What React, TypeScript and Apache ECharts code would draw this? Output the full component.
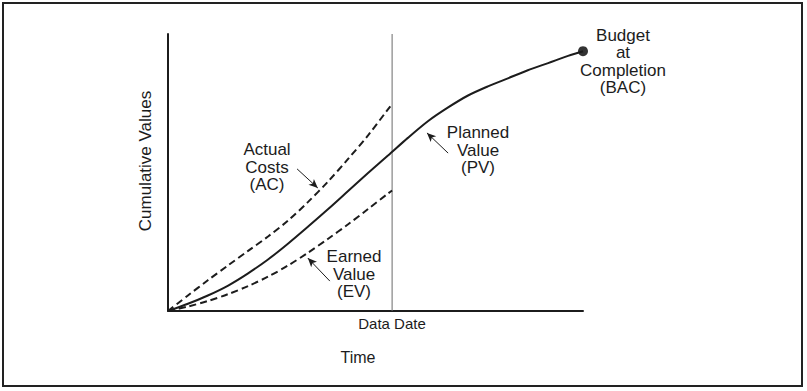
import React, { useEffect, useRef } from "react";
import * as echarts from "echarts";

// Shared x positions (time, % of total duration) where curves were read
const timeX = [0, 4.8, 9.6, 14.5, 19.3, 24.1, 28.9, 33.7, 38.6, 43.4, 48.2, 53.0];
// Planned Value (PV) curve, cumulative % of budget
const pvX = [...timeX, 57.8, 62.7, 67.5, 72.3, 77.1, 81.9, 86.7, 91.6, 96.4, 100];
const pvY = [0, 2.6, 5.6, 9.2, 13.6, 18.6, 24.3, 30.4, 36.8, 43.3, 49.8, 56.1, 62.5, 68.6, 73.5, 77.8, 81.1, 84.0, 86.9, 89.5, 92.1, 93.8];
// Actual Costs (AC) curve
const acX = [...timeX, 54.0];
const acY = [0, 5.6, 11.1, 16.5, 21.7, 26.9, 32.6, 39.3, 46.8, 54.9, 63.4, 72.8, 74.7];
// Earned Value (EV) curve
const evX = [...timeX, 54.0];
const evY = [0, 1.6, 3.6, 6.1, 9.0, 12.4, 16.4, 21.0, 26.1, 31.3, 36.8, 42.4, 43.5];
// Data date and budget at completion
const dataDateX = 54;
const bacPoint = [100, 93.8];
// Annotation arrows [fromX, fromY, toX, toY]
const acArrow = [31.1, 51.3, 36.1, 44.4];
const evArrow = [39.0, 10.8, 33.7, 19.1];
const pvArrow = [67.5, 57.0, 62.4, 64.3];

const zip = (xs: number[], ys: number[]) => xs.map((x, i) => [x, ys[i]]);

const FONT = "'Liberation Sans', Arial, sans-serif";
const INK = "#1c1c1c";

const arrowLine = (a: number[]) => ({
  silent: true,
  symbol: ["none", "arrow"],
  symbolSize: [6, 9],
  label: { show: false },
  lineStyle: { color: INK, width: 1, type: "solid" },
  data: [[{ coord: [a[0], a[1]] }, { coord: [a[2], a[3]] }]],
});

const textEl = (x: number, y: number, text: string, size: number, extra: any = {}) => ({
  type: "text",
  x,
  y,
  silent: true,
  ...extra,
  style: {
    text,
    fill: INK,
    font: `${size}px ${FONT}`,
    textAlign: "center",
    textVerticalAlign: "middle",
    lineHeight: 17.5,
  },
});

const curve = (name: string, xs: number[], ys: number[], dashed: boolean, arrow: number[]) => ({
  type: "line",
  name,
  data: zip(xs, ys),
  smooth: 0.3,
  showSymbol: false,
  lineStyle: dashed ? { color: INK, width: 2, type: [7, 4] } : { color: INK, width: 2 },
  markLine: arrowLine(arrow),
});

export default function App() {
  const ref = useRef<HTMLDivElement>(null);
  useEffect(() => {
    document.body.style.margin = "0";
    const chart = echarts.init(ref.current!, null, { renderer: "svg" });
    chart.setOption({
      animation: false,
      backgroundColor: "#ffffff",
      grid: { left: 168, top: 34, right: 224, bottom: 80 },
      xAxis: {
        type: "value",
        min: 0,
        max: 100,
        axisLine: { show: true, lineStyle: { color: INK, width: 2 } },
        axisTick: { show: false },
        axisLabel: { show: false },
        splitLine: { show: false },
      },
      yAxis: {
        type: "value",
        min: 0,
        max: 100,
        axisLine: { show: true, onZero: false, lineStyle: { color: INK, width: 2 } },
        axisTick: { show: false },
        axisLabel: { show: false },
        splitLine: { show: false },
      },
      series: [
        {
          type: "line",
          name: "Data Date",
          data: [[dataDateX, 0], [dataDateX, 100]],
          showSymbol: false,
          lineStyle: { color: "#6a6a6a", width: 1 },
          silent: true,
        },
        curve("PV", pvX, pvY, false, pvArrow),
        curve("AC", acX, acY, true, acArrow),
        curve("EV", evX, evY, true, evArrow),
        {
          type: "scatter",
          name: "BAC",
          data: [bacPoint],
          symbolSize: 10,
          itemStyle: { color: "#000" },
        },
      ],
      graphic: [
        {
          type: "rect",
          shape: { x: 3, y: 3, width: 799, height: 383 },
          style: { fill: "none", stroke: "#222", lineWidth: 2 },
          silent: true,
        },
        textEl(623, 61.5, "Budget\nat\nCompletion\n(BAC)", 17),
        textEl(478, 150, "Planned\nValue\n(PV)", 17),
        textEl(267, 167, "Actual\nCosts\n(AC)", 17),
        textEl(354, 274, "Earned\nValue\n(EV)", 17),
        textEl(392, 323, "Data Date", 15),
        textEl(358, 357, "Time", 16),
        textEl(145, 161, "Cumulative Values", 17, { rotation: Math.PI / 2 }),
      ],
    });
    return () => chart.dispose();
  }, []);
  return <div ref={ref} style={{ width: 807, height: 391 }} />;
}
